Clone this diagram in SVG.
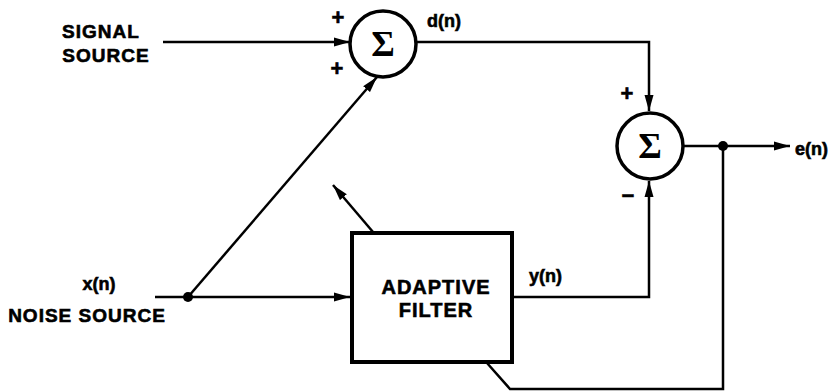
<svg xmlns="http://www.w3.org/2000/svg" width="840" height="391" viewBox="0 0 840 391">
<style>
.ln{fill:none;stroke:#000;stroke-width:2.5;stroke-linejoin:miter}
.sum{fill:#fff;stroke:#000;stroke-width:3.5}
.box{fill:#fff;stroke:#000;stroke-width:4}
.lb{font-family:"Liberation Sans",Arial,sans-serif;font-weight:bold;fill:#000;stroke:#000;stroke-width:0.6}
.big{font-size:19px;letter-spacing:1px;text-anchor:middle}
.sig{font-family:"Liberation Serif","Times New Roman",serif;font-weight:bold;font-size:36px;text-anchor:middle;fill:#000}
.pm{font-family:"Liberation Sans",Arial,sans-serif;font-weight:bold;font-size:22px;text-anchor:middle;fill:#000;stroke:#000;stroke-width:0.6}
</style>
<defs>
<marker id="arr" viewBox="0 0 16 10" refX="16" refY="5" markerWidth="16" markerHeight="10" orient="auto" markerUnits="userSpaceOnUse">
<path d="M0,0.5 L16,5 L0,9.5 Z" fill="#000"/>
</marker>
</defs>
<g id="connectors">
<path class="ln" d="M163,42 H350" marker-end="url(#arr)"/>
<path class="ln" d="M416,42 H649 V111" marker-end="url(#arr)"/>
<path class="ln" d="M188,297 L377,77" marker-end="url(#arr)"/>
<path class="ln" d="M155,297 H350" marker-end="url(#arr)"/>
<path class="ln" d="M513,297 H649 V181" marker-end="url(#arr)"/>
<path class="ln" d="M683,146 H790" marker-end="url(#arr)"/>
<path class="ln" d="M723,146 V389 H510 L487,363"/>
<path class="ln" d="M373,232 L333,185" marker-end="url(#arr)"/>
<circle cx="188" cy="297" r="5" fill="#000"/>
<circle cx="723" cy="146" r="5" fill="#000"/>
</g>
<g id="signal-source">
<text class="lb big" x="101" y="38">SIGNAL</text>
<text class="lb big" x="106" y="62">SOURCE</text>
</g>
<g id="noise-source">
<text class="lb" x="99" y="290" font-size="18" text-anchor="middle">x(n)</text>
<text class="lb big" x="87" y="322">NOISE SOURCE</text>
</g>
<g id="sum1">
<circle class="sum" cx="383" cy="44" r="33"/>
<text class="sig" x="383" y="56">Σ</text>
<text class="pm" x="338" y="25">+</text>
<text class="pm" x="337" y="76">+</text>
<text class="lb" x="427" y="27" font-size="18">d(n)</text>
</g>
<g id="sum2">
<circle class="sum" cx="650" cy="146" r="33"/>
<text class="sig" x="650" y="158">Σ</text>
<text class="pm" x="627" y="101">+</text>
<text class="pm" x="628" y="203">−</text>
<text class="lb" x="795" y="155" font-size="18">e(n)</text>
</g>
<g id="adaptive-filter">
<rect class="box" x="352" y="233" width="160" height="129"/>
<text class="lb big" x="436" y="294" style="font-size:20px">ADAPTIVE</text>
<text class="lb big" x="436" y="317" style="font-size:20px">FILTER</text>
<text class="lb" x="529" y="282" font-size="18">y(n)</text>
</g>
</svg>
